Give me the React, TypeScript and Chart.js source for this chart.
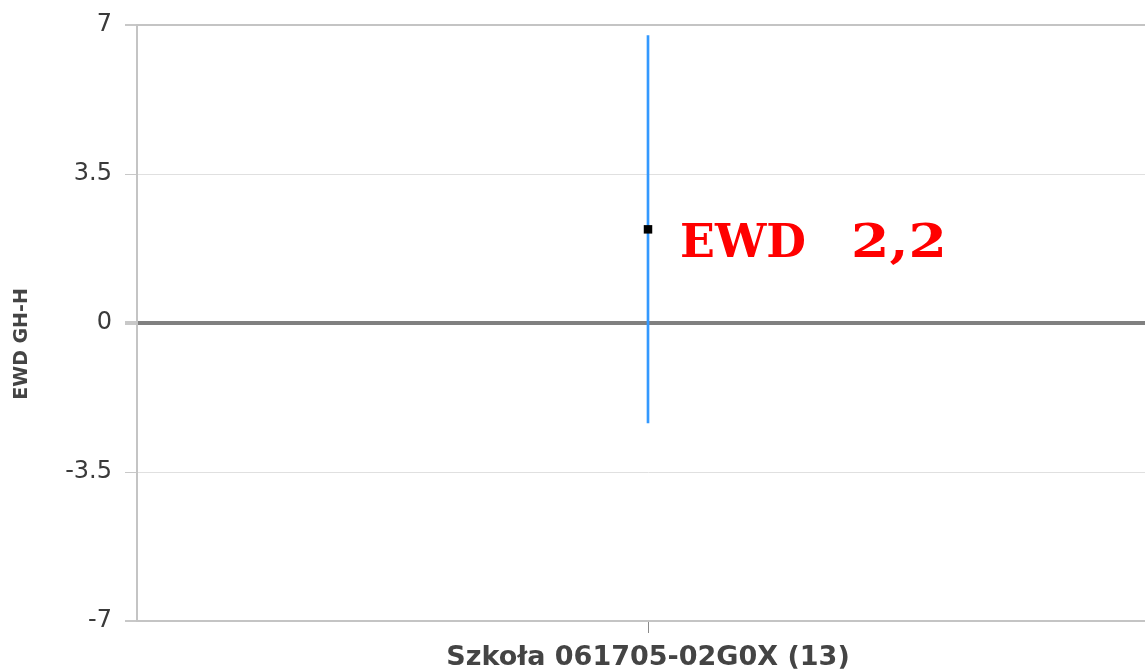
import React, { useEffect, useRef } from "react";
import { Chart, registerables } from "chart.js";

Chart.register(...registerables);

const categories = ["Szkoła 061705-02G0X (13)"];
const ewdValues = [2.2];
const ciLower = [-2.35];
const ciUpper = [6.75];
const yMin = -7;
const yMax = 7;
const yStep = 3.5;
const yTitle = "EWD GH-H";
const labelParts = ["EWD", "2,2"];

const labelPlugin = {
  id: "ewdLabel",
  afterDatasetsDraw(chart: any) {
    const meta = chart.getDatasetMeta(1);
    const pt = meta.data[0];
    if (!pt) return;
    const ctx = chart.ctx;
    ctx.save();
    ctx.fillStyle = "#ff0000";
    ctx.font = "bold 47px 'DejaVu Serif', serif";
    ctx.textBaseline = "alphabetic";
    ctx.textAlign = "left";
    const drawFit = (text: string, x: number, y: number, w: number) => {
      const m = ctx.measureText(text).width;
      ctx.save();
      ctx.translate(x, y);
      ctx.scale(w / m, 1);
      ctx.fillText(text, 0, 0);
      ctx.restore();
    };
    drawFit(labelParts[0], pt.x + 32, pt.y + 28, 126);
    drawFit(labelParts[1], pt.x + 203, pt.y + 28, 96);
    ctx.restore();
  },
  afterDraw(chart: any) {
    const ctx = chart.ctx;
    ctx.save();
    ctx.fillStyle = "#444444";
    ctx.font = "bold 19px 'DejaVu Sans', sans-serif";
    ctx.textAlign = "center";
    ctx.textBaseline = "middle";
    ctx.translate(22, 344);
    ctx.rotate(-Math.PI / 2);
    ctx.fillText(yTitle, 0, 0);
    ctx.restore();
  },
};

export default function App() {
  const ref = useRef<HTMLCanvasElement>(null);
  useEffect(() => {
    if (!ref.current) return;
    const chart = new Chart(ref.current, {
      type: "bar",
      data: {
        labels: categories,
        datasets: [
          {
            type: "bar",
            data: ciLower.map((lo, i) => [lo, ciUpper[i]]) as any,
            backgroundColor: "#3399ff",
            borderWidth: 0,
            barThickness: 2,
            order: 2,
          },
          {
            type: "line",
            data: ewdValues,
            showLine: false,
            pointStyle: "rect",
            pointRadius: 6,
            pointBackgroundColor: "#000000",
            pointBorderColor: "#000000",
            pointBorderWidth: 0,
            order: 1,
          } as any,
        ],
      },
      options: {
        animation: false,
        responsive: false,
        devicePixelRatio: 1,
        layout: { padding: { top: 25, left: 0, right: 0, bottom: 0 } },
        plugins: {
          legend: { display: false },
          tooltip: { enabled: false },
        },
        scales: {
          x: {
            offset: true,
            grid: {
              offset: false,
              drawOnChartArea: false,
              drawTicks: true,
              tickLength: 12,
              tickColor: "#8a8a8a",
            },
            border: { display: true, color: "#c4c4c4", width: 2 },
            ticks: {
              color: "#444444",
              padding: 9,
              font: { family: "'DejaVu Sans', sans-serif", size: 27, weight: "bold" },
            },
            afterFit(scale: any) {
              scale.height = 49;
              scale.paddingLeft = 0;
              scale.paddingRight = 0;
            },
          },
          y: {
            min: yMin,
            max: yMax,
            ticks: {
              stepSize: yStep,
              color: "#3a3a3a",
              padding: 13,
              font: { family: "'DejaVu Sans', sans-serif", size: 24 },
              callback: (v: any) => String(v),
            },
            grid: {
              tickLength: 12,
              tickColor: "#c8c8c8",
              color: (c: any) =>
                c.tick && c.tick.value === 0
                  ? "#808080"
                  : Math.abs(c.tick?.value) === 7
                  ? "#c4c4c4"
                  : "#e0e0e0",
              lineWidth: (c: any) =>
                c.tick && c.tick.value === 0
                  ? 4
                  : Math.abs(c.tick?.value) === 7
                  ? 2
                  : 1,
            },
            border: { display: true, color: "#c4c4c4", width: 2 },
            title: { display: false },
            afterFit(scale: any) {
              scale.width = 137;
              scale.paddingTop = 0;
              scale.paddingBottom = 0;
            },
          },
        },
      },
      plugins: [labelPlugin],
    });
    return () => chart.destroy();
  }, []);
  return (
    <div
      style={{
        position: "absolute",
        left: 0,
        top: 0,
        width: 1145,
        height: 670,
        overflow: "hidden",
        background: "#ffffff",
      }}
    >
      <canvas ref={ref} width={1165} height={670} style={{ display: "block" }} />
    </div>
  );
}
